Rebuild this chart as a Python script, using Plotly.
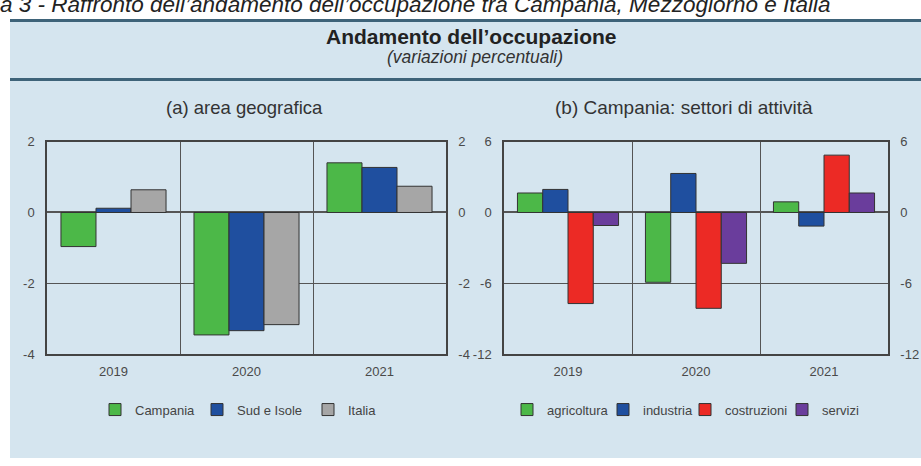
import plotly.graph_objects as go

# ---- data ----
years = ["2019", "2020", "2021"]
campania = [-0.96, -3.45, 1.40]
sud_isole = [0.12, -3.33, 1.27]
italia = [0.64, -3.16, 0.74]

agricoltura = [1.65, -5.9, 0.9]
industria = [1.95, 3.3, -1.15]
costruzioni = [-7.7, -8.1, 4.85]
servizi = [-1.1, -4.3, 1.65]

left_ticks = [-4, -2, 0, 2]
left_tick_text = ["-4", "-2", "0", "2"]
right_ticks = [-12, -6, 0, 6]
right_tick_text = ["-12", "-6", "0", "6"]

W, H = 921, 466
def px(x):
    return x / W
def py(y):
    return 1 - y / H

FONT = "Liberation Sans, Arial, sans-serif"
BG = "#d5e5ef"
LINE = "#3e6379"
EDGE = "#333333"
GREEN = "#4cb848"
BLUE = "#1f4f9f"
GRAY = "#a6a6a6"
RED = "#ec2a25"
PURPLE = "#6a3d9c"

fig = go.Figure()

series = [
    ("Campania", campania, GREEN, "x", "y", 133),
    ("Sud e Isole", sud_isole, BLUE, "x", "y", 235),
    ("Italia", italia, GRAY, "x", "y", 346),
    ("agricoltura", agricoltura, GREEN, "x2", "y3", 545),
    ("industria", industria, BLUE, "x2", "y3", 641),
    ("costruzioni", costruzioni, RED, "x2", "y3", 723),
    ("servizi", servizi, PURPLE, "x2", "y3", 820),
]

legend_layout = {}
for i, (name, vals, color, xa, ya, text_x) in enumerate(series):
    lname = "legend" if i == 0 else f"legend{i + 1}"
    fig.add_trace(go.Bar(
        x=years, y=vals, name=name, xaxis=xa, yaxis=ya, legend=lname,
        marker=dict(color=color, line=dict(color=EDGE, width=1)),
        hoverinfo="name+y",
    ))
    legend_layout[lname] = dict(
        orientation="h", x=px(text_x - 38), y=py(416), xanchor="left", yanchor="middle",
        bgcolor="rgba(0,0,0,0)", font=dict(family=FONT, size=13, color="#444444"),
        itemwidth=30,
    )

tickfont = dict(family=FONT, size=13, color="#4a4a4a")
ydom = [py(359), py(139)]

xcommon = dict(
    type="category", tickson="boundaries", showgrid=True, gridcolor="#555555", gridwidth=1.2,
    ticks="", showline=True, linecolor="#444444", linewidth=1.5, mirror=True,
    tickfont=tickfont, ticklabelstandoff=4, fixedrange=True,
)
ybase = dict(
    showline=True, linecolor="#444444", linewidth=1.5, mirror=True,
    ticks="", tickfont=tickfont, ticklabelstandoff=8, fixedrange=True,
)
ygrid = dict(
    showgrid=True, gridcolor="#555555", gridwidth=1.2, zeroline=True, zerolinecolor="#555555",
    zerolinewidth=1.5, domain=ydom,
)

fig.update_layout(
    width=W, height=H,
    margin=dict(l=0, r=0, t=0, b=0),
    paper_bgcolor="white",
    plot_bgcolor="white",
    barmode="group",
    bargap=0.21,
    bargroupgap=0,
    font=dict(family=FONT, color="#333333"),
    xaxis=dict(domain=[px(47), px(446)], anchor="y", **xcommon),
    xaxis2=dict(domain=[px(504), px(888)], anchor="y3", **xcommon),
    yaxis=dict(anchor="x", range=[-4, 2], tickvals=left_ticks, ticktext=left_tick_text,
               side="left", **ybase, **ygrid),
    yaxis2=dict(anchor="x", overlaying="y", range=[-4, 2], tickvals=left_ticks,
                ticktext=left_tick_text, side="right", showgrid=False, zeroline=False, **ybase),
    yaxis3=dict(anchor="x2", range=[-12, 6], tickvals=right_ticks, ticktext=right_tick_text,
                side="left", **ybase, **ygrid),
    yaxis4=dict(anchor="x2", overlaying="y3", range=[-12, 6], tickvals=right_ticks,
                ticktext=right_tick_text, side="right", showgrid=False, zeroline=False, **ybase),
    showlegend=True,
    **legend_layout,
)

# invisible helper traces so right-side axes render
fig.add_trace(go.Scatter(x=[years[0]], y=[0], xaxis="x", yaxis="y2", mode="markers",
                         marker=dict(opacity=0), showlegend=False, hoverinfo="skip"))
fig.add_trace(go.Scatter(x=[years[0]], y=[0], xaxis="x2", yaxis="y4", mode="markers",
                         marker=dict(opacity=0), showlegend=False, hoverinfo="skip"))

# background panel and rules
fig.add_shape(type="rect", xref="paper", yref="paper", x0=px(10), x1=1, y0=0, y1=py(14),
              fillcolor=BG, line=dict(width=0), layer="below")
for yy in (14, 75):
    fig.add_shape(type="line", xref="paper", yref="paper", x0=px(10), x1=1, y0=py(yy), y1=py(yy),
                  line=dict(color=LINE, width=3), layer="below")

ann = [
    dict(text="<i>a 3 - Raffronto dell\u2019andamento dell\u2019occupazione tra Campania, Mezzogiorno e Italia</i>",
         x=px(-2), y=py(-3), xanchor="left", yanchor="middle",
         font=dict(family=FONT, size=22.5, color="#222222")),
    dict(text="<b>Andamento dell\u2019occupazione</b>", x=px(471), y=py(30),
         font=dict(family=FONT, size=21, color="#222222")),
    dict(text="<i>(variazioni percentuali)</i>", x=px(475), y=py(52),
         font=dict(family=FONT, size=17.5, color="#333333")),
    dict(text="(a) area geografica", x=px(244), y=py(104),
         font=dict(family=FONT, size=18.5, color="#333333")),
    dict(text="(b) Campania: settori di attivit\u00e0", x=px(684), y=py(104),
         font=dict(family=FONT, size=19, color="#333333")),
]
for a in ann:
    a.update(xref="paper", yref="paper", showarrow=False)
    if "xanchor" not in a:
        a.update(xanchor="center", yanchor="middle")
    fig.add_annotation(**a)

fig.write_html("out.html", config={"displayModeBar": False},
               post_script="document.body.style.margin='0px';")
